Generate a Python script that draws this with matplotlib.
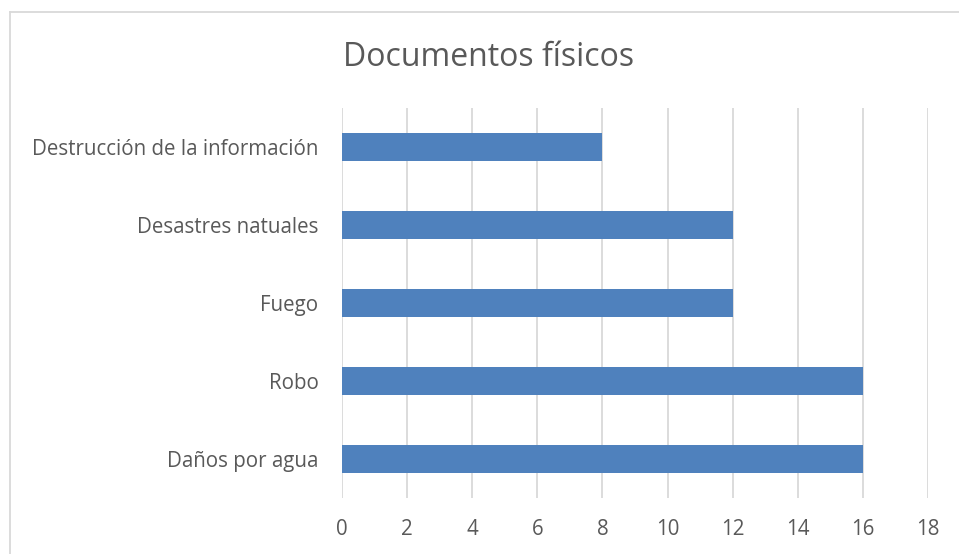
import matplotlib
matplotlib.use("Agg")
import matplotlib.pyplot as plt
from matplotlib.lines import Line2D

categories = ["Destrucción de la información", "Desastres natuales", "Fuego", "Robo", "Daños por agua"]
values = [8, 12, 12, 16, 16]
xticks = [0, 2, 4, 6, 8, 10, 12, 14, 16, 18]
title = "Documentos físicos"

W, H = 959, 554
fig = plt.figure(figsize=(W / 100, H / 100), dpi=100)
font = ["Open Sans", "DejaVu Sans"]
plt.rcParams['font.family'] = font

ax = fig.add_axes([342 / W, 1 - 498 / H, (928 - 342) / W, (498 - 108) / H])
ypos = list(range(len(categories)))
ax.barh(ypos, values, height=0.35, color="#4F81BD", zorder=3)
ax.set_ylim(len(categories) - 0.5, -0.5)
ax.set_yticks(ypos)
ax.set_yticklabels(categories, fontsize=14.8, color="#595959")
ax.set_xlim(0, 18)
ax.set_xticks(xticks)
ax.set_xticklabels([str(t) for t in xticks], fontsize=14.8, color="#595959")
ax.tick_params(axis="both", length=0)
ax.tick_params(axis="y", pad=17)
ax.tick_params(axis="x", pad=15)
ax.grid(axis="x", color="#D9D9D9", linewidth=1.3, zorder=0)
for s in ax.spines.values():
    s.set_visible(False)

fig.text(489 / W, 1 - 58 / H, title, ha="center", va="center", fontsize=23, color="#595959")

# chart frame (left and top visible, right/bottom outside image)
fig.add_artist(Line2D([9.5 / W, 9.5 / W], [0, 1 - 11.5 / H], transform=fig.transFigure, color="#D9D9D9", linewidth=1.3))
fig.add_artist(Line2D([9.5 / W, 1], [1 - 11.5 / H, 1 - 11.5 / H], transform=fig.transFigure, color="#D9D9D9", linewidth=1.3))

fig.savefig("out.png", dpi=100, facecolor="white")
